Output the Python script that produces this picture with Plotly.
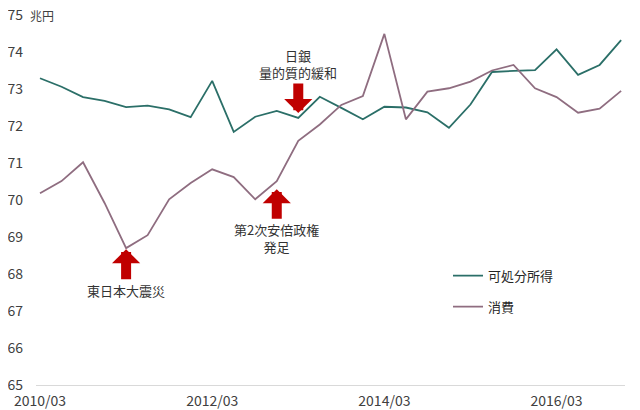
import plotly.graph_objects as go

quarters = ['2010/03', '2010/06', '2010/09', '2010/12',
            '2011/03', '2011/06', '2011/09', '2011/12',
            '2012/03', '2012/06', '2012/09', '2012/12',
            '2013/03', '2013/06', '2013/09', '2013/12',
            '2014/03', '2014/06', '2014/09', '2014/12',
            '2015/03', '2015/06', '2015/09', '2015/12',
            '2016/03', '2016/06', '2016/09', '2016/12']

# 可処分所得 (兆円)
income = [73.29, 73.06, 72.78, 72.68, 72.51, 72.55, 72.45, 72.24,
          73.22, 71.84, 72.25, 72.41, 72.22, 72.79, 72.49, 72.18,
          72.52, 72.50, 72.37, 71.95, 72.58, 73.46, 73.49, 73.51,
          74.07, 73.38, 73.65, 74.32]

# 消費 (兆円)
consumption = [70.18, 70.51, 71.02, 69.92, 68.70, 69.05, 70.02, 70.46,
               70.83, 70.62, 70.02, 70.51, 71.60, 72.04, 72.57, 72.81,
               74.49, 72.18, 72.93, 73.02, 73.20, 73.50, 73.65, 73.02,
               72.78, 72.36, 72.47, 72.95]

xticks = ['2010/03', '2012/03', '2014/03', '2016/03']
yticks = [65, 66, 67, 68, 69, 70, 71, 72, 73, 74, 75]

# (quarter, value at arrow tip, text, text offset in px)
events = [
    ('2011/03', 68.67, '東日本大震災', 41),
    ('2012/12', 70.29, '第2次安倍政権<br>発足', 49),
    ('2013/03', 72.35, '日銀<br>量的質的緩和', -49),
]

FONT = 'Noto Sans CJK JP'

fig = go.Figure()
fig.add_trace(go.Scatter(x=quarters, y=income, mode='lines', name='可処分所得',
                         legendgroup='a',
                         line=dict(color='#2b6f68', width=1.8)))
fig.add_trace(go.Scatter(x=quarters, y=consumption, mode='lines', name='消費',
                         legendgroup='b',
                         line=dict(color='#8f6d80', width=1.8)))

for q, v, label, ay in events:
    fig.add_annotation(x=q, y=v, xref='x', yref='y', text=label,
                       showarrow=True, arrowhead=1, arrowsize=0.47, arrowwidth=10,
                       arrowcolor='#c00000', ax=0, ay=ay,
                       font=dict(family=FONT, size=13, color='#333333'))

fig.add_annotation(x=-0.0136, y=1, xref='paper', yref='paper', text='兆円',
                   showarrow=False, xanchor='left', yanchor='middle',
                   font=dict(family=FONT, size=12, color='#404040'))

# the page puts the chart 8px in from the top-left corner
fig.update_layout(
    width=632, height=402,
    margin=dict(l=28, r=15, t=7, b=25),
    paper_bgcolor='white', plot_bgcolor='white',
    font=dict(family=FONT, size=14, color='#404040'),
    showlegend=True,
    legend=dict(x=0.6995, y=0.336, xanchor='left', yanchor='top',
                itemwidth=30, tracegroupgap=11,
                font=dict(family=FONT, size=13, color='#262626'),
                bgcolor='rgba(0,0,0,0)'),
    xaxis=dict(type='category', range=[-0.186, 27.18],
               tickvals=xticks, ticktext=xticks,
               showgrid=False, zeroline=False, automargin=False,
               showline=True, linecolor='#d9d9d9', linewidth=1,
               ticks='', ticklabelstandoff=3),
    yaxis=dict(range=[65, 75], tickvals=yticks, automargin=False,
               showgrid=False, zeroline=False, showline=False,
               ticks='', ticklabelstandoff=12, ticklabeloverflow='allow'),
)

fig.write_html("out.html")
